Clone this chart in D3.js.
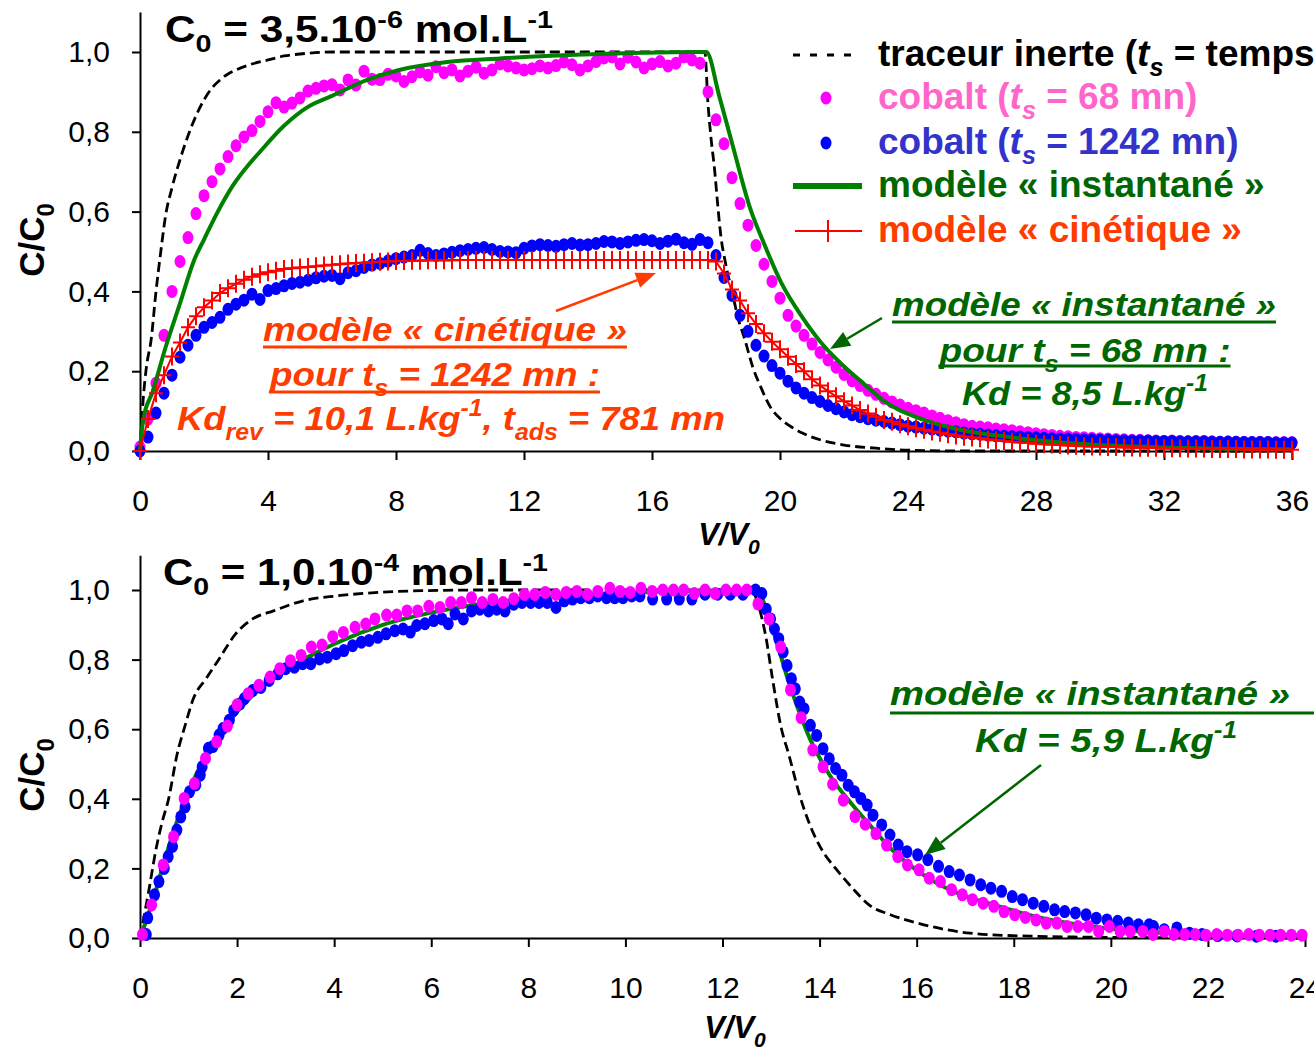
<!DOCTYPE html>
<html>
<head>
<meta charset="utf-8">
<script src="https://cdn.jsdelivr.net/npm/d3@7"></script>
<style>
  body { margin: 0; background: #fff; }
</style>
</head>
<body>
<script>
// ---------- data ----------
const yTicks = [0, 0.2, 0.4, 0.6, 0.8, 1.0];
const topXTicks = [0, 4, 8, 12, 16, 20, 24, 28, 32, 36];
const botXTicks = [0, 2, 4, 6, 8, 10, 12, 14, 16, 18, 20, 22, 24];

// top panel, C0 = 3,5.10-6 ; dot series sampled every topStep in V/V0
const topStep = 0.25;
const topPink = [
  0.01,0.08,0.17,0.29,0.40,0.475,0.535,0.595,
  0.64,0.675,0.707,0.738,0.765,0.787,0.803,0.826,
  0.85,0.873,0.862,0.872,0.885,0.902,0.909,0.915,
  0.918,0.905,0.93,0.917,0.952,0.932,0.931,0.944,
  0.94,0.926,0.938,0.95,0.942,0.963,0.948,0.955,
  0.94,0.952,0.962,0.947,0.955,0.97,0.965,0.96,
  0.955,0.958,0.965,0.96,0.966,0.975,0.968,0.955,
  0.965,0.976,0.985,0.988,0.97,0.987,0.975,0.96,
  0.97,0.976,0.965,0.972,0.988,0.98,0.972,0.9,
  0.83,0.77,0.685,0.62,0.566,0.515,0.468,0.425,
  0.383,0.34,0.313,0.29,0.268,0.247,0.228,0.21,
  0.192,0.176,0.164,0.152,0.142,0.132,0.123,0.115,
  0.107,0.101,0.095,0.088,0.082,0.076,0.071,0.066,
  0.062,0.06,0.058,0.055,0.053,0.051,0.048,0.046,
  0.043,0.041,0.039,0.037,0.036,0.034,0.033,0.032,
  0.031,0.03,0.029,0.028,0.027,0.027,0.026,0.025,
  0.024,0.025,0.024,0.023,0.024,0.024,0.023,0.022,
  0.023,0.022,0.022,0.021,0.022,0.021,0.021,0.021,
  0.021];
const topBlue = [
  0.0,0.035,0.095,0.145,0.19,0.235,0.265,0.29,
  0.31,0.322,0.335,0.355,0.368,0.378,0.393,0.38,
  0.402,0.407,0.414,0.42,0.423,0.428,0.434,0.438,
  0.44,0.432,0.447,0.452,0.46,0.466,0.47,0.476,
  0.482,0.486,0.49,0.503,0.495,0.49,0.494,0.498,
  0.502,0.505,0.508,0.51,0.505,0.5,0.499,0.497,
  0.508,0.514,0.517,0.515,0.513,0.517,0.52,0.516,
  0.517,0.52,0.525,0.524,0.52,0.524,0.528,0.53,
  0.527,0.52,0.526,0.531,0.522,0.518,0.53,0.522,
  0.49,0.435,0.39,0.34,0.3,0.265,0.238,0.214,
  0.195,0.175,0.158,0.145,0.134,0.124,0.114,0.106,
  0.098,0.091,0.086,0.081,0.077,0.074,0.07,0.066,
  0.062,0.06,0.057,0.055,0.052,0.05,0.048,0.045,
  0.043,0.042,0.04,0.038,0.037,0.036,0.035,0.034,
  0.033,0.032,0.031,0.03,0.03,0.029,0.028,0.028,
  0.027,0.027,0.026,0.026,0.025,0.025,0.025,0.024,
  0.024,0.024,0.023,0.023,0.023,0.023,0.022,0.022,
  0.022,0.022,0.021,0.021,0.021,0.021,0.02,0.02,
  0.02];
const topKinetic = [
  0,0.08,0.145,0.19,0.237,0.272,0.31,0.338,
  0.36,0.377,0.396,0.408,0.419,0.429,0.437,0.443,
  0.448,0.452,0.456,0.458,0.46,0.461,0.463,0.465,
  0.467,0.468,0.47,0.471,0.472,0.473,0.474,0.475,
  0.476,0.476,0.477,0.477,0.478,0.478,0.478,0.478,
  0.479,0.479,0.479,0.479,0.479,0.479,0.479,0.479,
  0.479,0.479,0.479,0.479,0.479,0.479,0.479,0.479,
  0.479,0.479,0.479,0.479,0.479,0.479,0.479,0.479,
  0.479,0.479,0.479,0.479,0.479,0.479,0.479,0.479,
  0.475,0.445,0.405,0.377,0.345,0.318,0.295,0.274,
  0.255,0.236,0.218,0.2,0.18,0.164,0.15,0.137,
  0.125,0.114,0.103,0.094,0.086,0.078,0.073,0.067,
  0.062,0.057,0.053,0.049,0.046,0.042,0.039,0.036,
  0.034,0.032,0.029,0.027,0.025,0.023,0.021,0.02,
  0.018,0.017,0.016,0.015,0.014,0.013,0.012,0.011,
  0.011,0.01,0.01,0.009,0.009,0.008,0.008,0.008,
  0.007,0.007,0.007,0.006,0.006,0.006,0.005,0.005,
  0.005,0.005,0.004,0.004,0.004,0.004,0.003,0.003,
  0.003];
const topTracerX = [0,0.1,0.2,0.35,0.5,0.65,0.8,1.0,1.25,1.5,1.75,2.0,2.25,2.5,2.75,3.0,
  3.5,4.0,4.5,5.0,6.0,8,10,12,14,16,17.65,17.75,17.85,17.95,18.05,18.15,18.3,18.5,18.7,
  18.9,19.15,19.4,19.7,20.05,20.4,20.7,21.3,22,23,24,26,30,36];
const topTracerY = [0,0.13,0.21,0.28,0.40,0.5,0.59,0.66,0.73,0.79,0.84,0.88,0.91,0.93,0.945,0.955,
  0.97,0.98,0.99,0.995,1.0,1.0,1.0,1.0,1.0,1.0,1.0,0.87,0.78,0.71,0.62,0.54,0.47,0.40,0.33,
  0.28,0.21,0.16,0.11,0.078,0.058,0.045,0.027,0.015,0.007,0.002,0,0,0];
const topInstantX = [0,0.1,0.4,0.8,1.25,1.7,2.0,2.4,2.9,3.4,3.75,4.5,5.2,6.0,7.1,8.1,
  9.6,11.25,14.4,17.7,18.1,18.54,19.06,19.5,20.05,20.7,21.3,21.96,22.6,23.2,24.5,25.7,27.05,29.6,32,36];
const topInstantY = [0,0.078,0.15,0.26,0.37,0.48,0.53,0.595,0.665,0.718,0.75,0.815,0.86,0.89,0.93,0.955,
  0.975,0.984,0.995,1.0,0.89,0.76,0.61,0.52,0.42,0.335,0.27,0.215,0.17,0.128,0.078,0.052,0.036,0.017,0.009,0.004];

// bottom panel, C0 = 1,0.10-4
const botTracerX = [0,0.19,0.32,0.45,0.59,0.76,0.93,1.1,1.36,1.63,1.97,2.32,2.75,3.36,4.05,4.92,
  5.8,7,9,11,12.6,12.72,12.9,13.03,13.2,13.37,13.59,13.8,14.07,14.33,14.68,15.02,15.46,16.15,17.1,18.4,20,24];
const botTracerY = [0,0.143,0.248,0.33,0.4,0.525,0.611,0.688,0.745,0.802,0.874,0.917,0.94,0.969,0.983,0.993,
  0.998,1,1,1,1,0.965,0.86,0.745,0.61,0.525,0.41,0.325,0.248,0.2,0.143,0.095,0.067,0.038,0.014,0.005,0.002,0];
const botInstantX = [0,0.25,0.5,0.75,1.0,1.5,2.0,2.5,3.0,3.5,4,5,6,7,8,9,10,11,12.7,
  13.0,13.4,13.8,14.2,14.68,15.0,15.46,16.24,17,17.6,18.5,19.35,20.5,22,24];
const botInstantY = [0,0.1,0.22,0.33,0.42,0.56,0.65,0.72,0.77,0.81,0.845,0.9,0.935,0.96,0.975,0.985,0.992,0.996,1.0,
  0.9,0.72,0.573,0.47,0.382,0.33,0.258,0.172,0.12,0.095,0.06,0.038,0.02,0.01,0.005];
const botPinkX = [
  0.05,0.24,0.48,0.69,0.91,1.12,1.35,1.58,1.8,2.0,
  2.23,2.45,2.68,2.88,3.1,3.32,3.53,3.75,3.97,4.19,
  4.43,4.65,4.84,5.08,5.29,5.5,5.72,5.95,6.18,6.4,
  6.62,6.83,7.05,7.27,7.48,7.7,7.92,8.13,8.35,8.57,
  8.78,9.0,9.22,9.43,9.68,9.89,10.1,10.32,10.55,10.77,
  10.99,11.2,11.42,11.64,11.85,12.07,12.29,12.5,12.73,12.96,
  13.2,13.4,13.62,13.86,14.07,14.27,14.49,14.73,14.94,15.16,
  15.38,15.61,15.81,16.05,16.26,16.49,16.72,16.94,17.15,17.37,
  17.59,17.8,18.02,18.24,18.46,18.67,18.89,19.1,19.32,19.54,
  19.75,19.97,20.19,20.4,20.66,20.87,21.1,21.3,21.52,21.74,
  21.96,22.18,22.4,22.62,22.84,23.06,23.28,23.5,23.72,23.94];
const botPinkY = [
  0.01,0.095,0.21,0.291,0.401,0.444,0.516,0.564,0.609,0.67,
  0.702,0.726,0.75,0.774,0.797,0.812,0.836,0.842,0.866,0.878,
  0.893,0.902,0.917,0.928,0.928,0.94,0.94,0.953,0.95,0.964,
  0.964,0.978,0.964,0.973,0.964,0.975,0.987,0.987,0.993,0.987,
  0.993,0.996,0.987,0.996,1.005,0.996,0.993,1.005,0.996,1.0,
  1.0,1.0,0.99,1.0,0.99,1.0,1.0,1.0,0.96,0.917,
  0.836,0.713,0.633,0.54,0.492,0.442,0.396,0.349,0.327,0.3,
  0.267,0.234,0.21,0.196,0.172,0.162,0.139,0.124,0.11,0.1,
  0.091,0.076,0.067,0.059,0.052,0.043,0.043,0.033,0.033,0.033,
  0.019,0.033,0.019,0.019,0.019,0.01,0.019,0.01,0.01,0.01,
  0.008,0.01,0.008,0.008,0.01,0.008,0.008,0.008,0.008,0.008];
const botBlueX = [
  0.13,0.16,0.3,0.39,0.5,0.58,0.67,0.76,0.84,0.93,
  1.02,1.15,1.24,1.28,1.41,1.5,1.63,1.71,1.84,1.93,
  2.06,2.15,2.32,2.49,2.66,2.84,3.0,3.18,3.35,3.52,
  3.7,3.86,4.04,4.2,4.38,4.56,4.72,4.9,5.07,5.25,
  5.42,5.57,5.7,5.87,6.05,6.22,6.35,6.49,6.66,6.83,
  7.0,7.18,7.35,7.52,7.7,7.87,8.05,8.22,8.39,8.57,
  8.74,8.91,9.08,9.26,9.43,9.61,9.78,9.95,10.13,10.3,
  10.56,10.85,11.11,11.37,11.64,11.9,12.16,12.42,12.68,12.81,
  12.9,12.99,13.07,13.16,13.25,13.33,13.42,13.5,13.59,13.68,
  13.81,13.94,14.07,14.2,14.33,14.46,14.59,14.72,14.85,14.98,
  15.1,15.28,15.45,15.62,15.8,16.02,16.23,16.45,16.67,16.88,
  17.1,17.32,17.53,17.75,17.97,18.18,18.4,18.62,18.84,19.05,
  19.27,19.49,19.7,19.92,20.14,20.36,20.57,20.79,20.88,21.1,
  21.36,21.62,21.88,22.2,22.6,23.0,23.4];
const botBlueY = [
  0.01,0.058,0.124,0.162,0.2,0.234,0.263,0.31,0.348,0.377,
  0.42,0.44,0.468,0.492,0.545,0.55,0.583,0.602,0.626,0.654,
  0.673,0.688,0.711,0.72,0.74,0.759,0.774,0.778,0.788,0.788,
  0.802,0.807,0.817,0.826,0.84,0.85,0.855,0.864,0.874,0.883,
  0.888,0.879,0.898,0.903,0.912,0.917,0.903,0.931,0.917,0.94,
  0.945,0.94,0.945,0.94,0.959,0.964,0.964,0.964,0.964,0.95,
  0.969,0.974,0.978,0.978,0.983,0.978,0.978,0.978,0.983,0.983,
  0.974,0.974,0.974,0.974,0.988,0.988,0.988,0.988,1.0,0.99,
  0.945,0.917,0.888,0.86,0.822,0.783,0.745,0.716,0.678,0.659,
  0.611,0.582,0.544,0.515,0.487,0.468,0.439,0.42,0.401,0.382,
  0.353,0.325,0.296,0.267,0.248,0.239,0.225,0.206,0.191,0.181,
  0.167,0.153,0.143,0.134,0.119,0.11,0.1,0.091,0.081,0.076,
  0.072,0.067,0.057,0.052,0.048,0.043,0.038,0.038,0.033,0.024,
  0.029,0.014,0.01,0.007,0.006,0.005,0.005];

// ---------- styling ----------
const FONT = "'Liberation Sans', Arial, Helvetica, sans-serif";
const PINK = "#ff00ff", BLUE = "#0000ff", GREEN = "#008000", RED = "#ff0000";
const TXT_GREEN = "#006600", TXT_RED = "#ff3c00";

const svg = d3.select("body").append("svg")
  .attr("width", 1314).attr("height", 1047)
  .style("display", "block");
svg.append("rect").attr("width", 1314).attr("height", 1047).attr("fill", "#fff");

const xTop = d3.scaleLinear().domain([0, 36]).range([140, 1292]);
const yTop = d3.scaleLinear().domain([0, 1.1]).range([451, 451 - 1.1 * 399]);
const xBot = d3.scaleLinear().domain([0, 24]).range([140, 1305]);
const yBot = d3.scaleLinear().domain([0, 1.1]).range([938, 938 - 1.1 * 348]);

const fmt = d => d.toFixed(1).replace(".", ",");

function drawAxes(x, y, xTicks) {
  const gy = svg.append("g").attr("transform", `translate(${x(0)},0)`)
    .call(d3.axisLeft(y).tickValues(yTicks).tickFormat(fmt).tickSize(8).tickSizeOuter(0).tickPadding(22));
  const gx = svg.append("g").attr("transform", `translate(0,${y(0)})`)
    .call(d3.axisBottom(x).tickValues(xTicks).tickFormat(d => d).tickSize(9).tickSizeOuter(0).tickPadding(30));
  [gx, gy].forEach(g => {
    g.selectAll("path,line").attr("stroke", "#000").attr("stroke-width", 2);
    g.selectAll("text").attr("font-family", FONT).attr("font-size", 30).attr("fill", "#000");
  });
}

function zipXY(xs, ys) { return xs.map((v, i) => [v, ys[i]]); }
function stepXY(ys, step) { return ys.map((v, i) => [i * step, v]); }

function drawLine(x, y, data, color, width, dash, curve) {
  const p = svg.append("path").datum(data)
    .attr("d", d3.line().curve(curve || d3.curveLinear).x(d => x(d[0])).y(d => y(d[1])))
    .attr("fill", "none").attr("stroke", color).attr("stroke-width", width)
    .attr("stroke-linejoin", "round");
  if (dash) p.attr("stroke-dasharray", dash);
}

function drawDots(x, y, data, color) {
  svg.append("g").selectAll("ellipse").data(data).join("ellipse")
    .attr("cx", d => x(d[0])).attr("cy", d => y(d[1]))
    .attr("rx", 5.5).attr("ry", 6.5).attr("fill", color);
}

function drawPlus(x, y, data, color) {
  svg.append("g").selectAll("path").data(data).join("path")
    .attr("d", d => { const cx = x(d[0]), cy = y(d[1]); return `M${cx - 7},${cy}H${cx + 7}M${cx},${cy - 9}V${cy + 9}`; })
    .attr("stroke", color).attr("stroke-width", 2).attr("fill", "none");
}

// text with italic / sub / sup parts
function richText(x, y, parts, o) {
  const size = o.size;
  const t = svg.append("text").attr("x", x).attr("y", y)
    .attr("font-family", FONT).attr("font-size", size).attr("font-weight", "bold")
    .attr("fill", o.fill).attr("text-anchor", o.anchor || "start");
  if (o.italic) t.attr("font-style", "italic");
  if (o.transform) t.attr("transform", o.transform);
  let shift = 0;
  parts.forEach(([s, k]) => {
    const small = k.includes("sub") || k.includes("sup");
    const target = k.includes("sub") ? size * 0.28 : k.includes("sup") ? -size * 0.4 : 0;
    const ts = t.append("tspan").attr("dy", target - shift).text(s);
    shift = target;
    if (small) ts.attr("font-size", size * 0.68);
    if (k.startsWith("i")) ts.attr("font-style", "italic");
  });
  if (o.width) t.attr("textLength", o.width).attr("lengthAdjust", "spacingAndGlyphs");
  if (o.underline) {
    const b = t.node().getBBox();
    const x2 = o.underlineTo || b.x + b.width;
    svg.append("line").attr("x1", b.x).attr("x2", x2)
      .attr("y1", y + o.underline).attr("y2", y + o.underline)
      .attr("stroke", o.fill).attr("stroke-width", 3);
  }
  return t;
}

function arrow(x1, y1, x2, y2, color) {
  const a = Math.atan2(y2 - y1, x2 - x1), L = 20, W = 8;
  const bx = x2 - L * Math.cos(a), by = y2 - L * Math.sin(a);
  svg.append("line").attr("x1", x1).attr("y1", y1).attr("x2", bx).attr("y2", by)
    .attr("stroke", color).attr("stroke-width", 2.5);
  svg.append("path")
    .attr("d", `M${x2},${y2}L${bx - W * Math.sin(a)},${by + W * Math.cos(a)}L${bx + W * Math.sin(a)},${by - W * Math.cos(a)}Z`)
    .attr("fill", color);
}

// ---------- top panel ----------
drawAxes(xTop, yTop, topXTicks);
drawLine(xTop, yTop, zipXY(topTracerX, topTracerY), "#000", 2.8, "10,5", d3.curveMonotoneX);
drawDots(xTop, yTop, stepXY(topPink, topStep), PINK);
drawDots(xTop, yTop, stepXY(topBlue, topStep), BLUE);
drawLine(xTop, yTop, zipXY(topInstantX, topInstantY), GREEN, 4, null, d3.curveMonotoneX);
drawLine(xTop, yTop, stepXY(topKinetic, topStep), RED, 2);
drawPlus(xTop, yTop, stepXY(topKinetic, topStep), RED);

richText(165, 42, [["C", ""], ["0", "sub"], [" = 3,5.10", ""], ["-6", "sup"], [" mol.L", ""], ["-1", "sup"]],
  { size: 36, fill: "#000", width: 388 });

// legend
const legRows = [55, 98, 143, 186, 231];
svg.append("line").attr("x1", 793).attr("x2", 860).attr("y1", legRows[0]).attr("y2", legRows[0])
  .attr("stroke", "#000").attr("stroke-width", 3).attr("stroke-dasharray", "7,10");
svg.append("ellipse").attr("cx", 826).attr("cy", legRows[1]).attr("rx", 5.5).attr("ry", 6.5).attr("fill", PINK);
svg.append("ellipse").attr("cx", 826).attr("cy", legRows[2]).attr("rx", 5.5).attr("ry", 6.5).attr("fill", BLUE);
svg.append("line").attr("x1", 793).attr("x2", 862).attr("y1", legRows[3]).attr("y2", legRows[3])
  .attr("stroke", GREEN).attr("stroke-width", 6);
svg.append("path").attr("d", `M795,${legRows[4]}H862M828,${legRows[4] - 11}V${legRows[4] + 11}`)
  .attr("stroke", RED).attr("stroke-width", 2).attr("fill", "none");
const legText = [
  [[["traceur inerte (", ""], ["t", "i"], ["s", "isub"], [" = temps de séjour)", ""]], "#000"],
  [[["cobalt (", ""], ["t", "i"], ["s", "isub"], [" = 68 mn)", ""]], "#ff66cc"],
  [[["cobalt (", ""], ["t", "i"], ["s", "isub"], [" = 1242 mn)", ""]], "#3333cc"],
  [[["modèle « instantané »", ""]], TXT_GREEN],
  [[["modèle « cinétique »", ""]], TXT_RED]
];
legText.forEach(([parts, col], i) => richText(878, legRows[i] + 11, parts, { size: 37, fill: col }));

// annotations top
richText(445, 341, [["modèle « cinétique »", ""]], { size: 34, fill: TXT_RED, italic: true, anchor: "middle", width: 364, underline: 6 });
richText(435, 386, [["pour t", ""], ["s", "sub"], [" = 1242 mn :", ""]], { size: 34, fill: TXT_RED, italic: true, anchor: "middle", width: 330, underline: 6 });
richText(451, 430, [["Kd", ""], ["rev", "sub"], [" = 10,1 L.kg", ""], ["-1", "sup"], [", t", ""], ["ads", "sub"], [" = 781 mn", ""]],
  { size: 34, fill: TXT_RED, italic: true, anchor: "middle", width: 548 });
arrow(556, 311, 656, 273, TXT_RED);

richText(1084, 316, [["modèle « instantané »", ""]], { size: 34, fill: TXT_GREEN, italic: true, anchor: "middle", width: 384, underline: 6 });
richText(1085, 362, [["pour t", ""], ["s", "sub"], [" = 68 mn :", ""]], { size: 34, fill: TXT_GREEN, italic: true, anchor: "middle", width: 291, underline: 4 });
richText(1085, 405, [["Kd = 8,5 L.kg", ""], ["-1", "sup"]], { size: 34, fill: TXT_GREEN, italic: true, anchor: "middle", width: 246 });
arrow(882, 318, 830, 349, TXT_GREEN);

// axis titles top
richText(729, 545, [["V/V", ""], ["0", "sub"]], { size: 31, fill: "#000", italic: true, anchor: "middle" });
richText(0, 0, [["C/C", ""], ["0", "sub"]], { size: 35, fill: "#000", anchor: "middle", transform: "translate(44,240) rotate(-90)" });

// ---------- bottom panel ----------
drawAxes(xBot, yBot, botXTicks);
drawLine(xBot, yBot, zipXY(botTracerX, botTracerY), "#000", 2.8, "10,5", d3.curveMonotoneX);
drawLine(xBot, yBot, zipXY(botInstantX, botInstantY), GREEN, 4, null, d3.curveMonotoneX);
drawDots(xBot, yBot, zipXY(botBlueX, botBlueY), BLUE);
drawDots(xBot, yBot, zipXY(botPinkX, botPinkY), PINK);

richText(163, 585, [["C", ""], ["0", "sub"], [" = 1,0.10", ""], ["-4", "sup"], [" mol.L", ""], ["-1", "sup"]],
  { size: 36, fill: "#000", width: 385 });

richText(1090, 705, [["modèle « instantané »", ""]], { size: 34, fill: TXT_GREEN, italic: true, anchor: "middle", width: 400, underline: 8, underlineTo: 1314 });
richText(1106, 752, [["Kd = 5,9 L.kg", ""], ["-1", "sup"]], { size: 34, fill: TXT_GREEN, italic: true, anchor: "middle", width: 262 });
arrow(1041, 765, 925, 855, TXT_GREEN);

richText(735, 1038, [["V/V", ""], ["0", "sub"]], { size: 31, fill: "#000", italic: true, anchor: "middle" });
richText(0, 0, [["C/C", ""], ["0", "sub"]], { size: 35, fill: "#000", anchor: "middle", transform: "translate(44,775) rotate(-90)" });
</script>
</body>
</html>
